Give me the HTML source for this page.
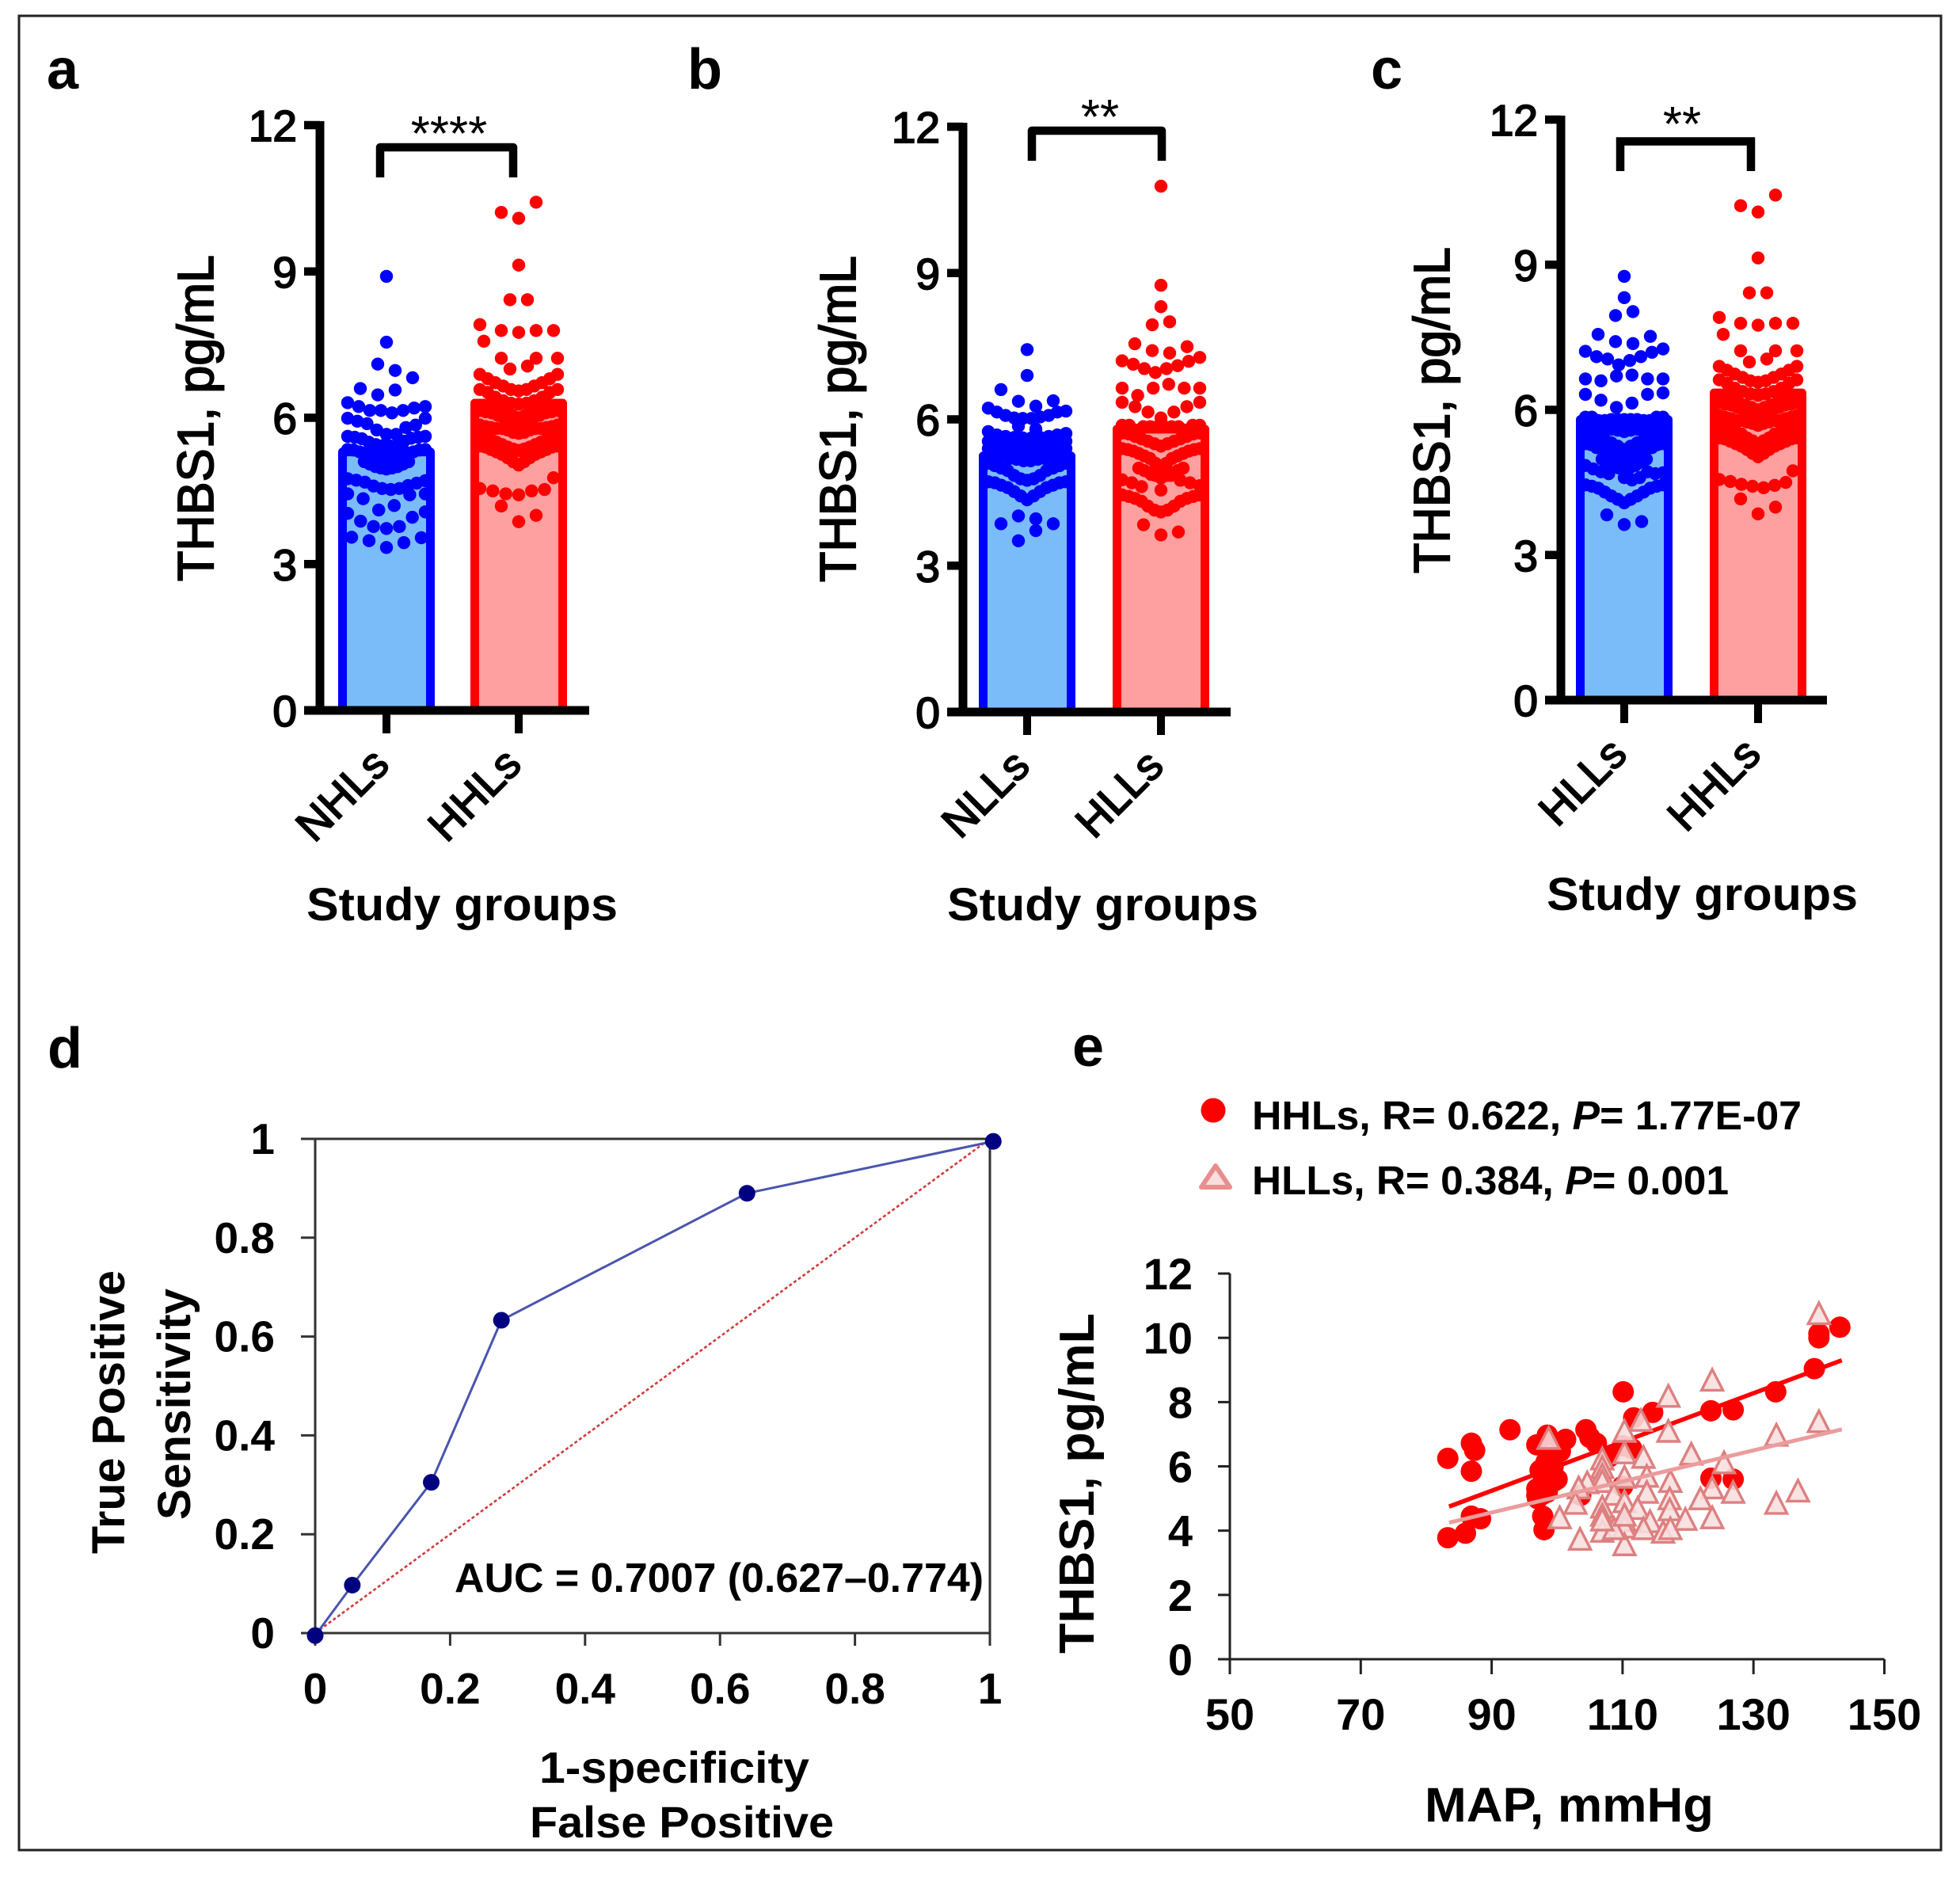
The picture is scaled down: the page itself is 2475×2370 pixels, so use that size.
<!DOCTYPE html>
<html lang="en">
<head>
<meta charset="utf-8">
<title>THBS1 study figure</title>
<style>
html,body{margin:0;padding:0;background:#fff;width:2475px;height:2370px;overflow:hidden}
svg{display:block}
text{font-family:"Liberation Sans",sans-serif;fill:#000}
.b{font-weight:700}
.m{stroke:#000;stroke-width:1.9px}
</style>
</head>
<body>
<svg id="figure" xmlns="http://www.w3.org/2000/svg" width="2475" height="2370" viewBox="0 0 2475 2370">
  <rect x="24" y="20" width="2427" height="2316" fill="#fff" stroke="#222" stroke-width="3"/>
  <text class="b" x="59" y="112" font-size="72">a</text>
  <text class="b" x="868" y="112" font-size="72">b</text>
  <text class="b" x="1731" y="112" font-size="72">c</text>
  <text class="b" x="60" y="1348" font-size="72">d</text>
  <text class="b" x="1354" y="1346" font-size="72">e</text>

  <g id="panel-a"></g>
  <g id="panel-b"></g>
  <g id="panel-c"></g>
  <g id="panel-d"></g>
  <g id="panel-e"></g>

  <g>
    <circle cx="1532" cy="1402" r="15.5" fill="#ff0000"/>
    <text class="b" x="1581" y="1426" font-size="51" textLength="694" lengthAdjust="spacingAndGlyphs">HHLs, R= 0.622, <tspan font-style="italic">P</tspan>= 1.77E-07</text>
    <polygon points="1535,1472 1553,1499 1517,1499" fill="#f8dede" stroke="#e88e8e" stroke-width="6" stroke-linejoin="round"/>
    <text class="b" x="1581" y="1508" font-size="51" textLength="602" lengthAdjust="spacingAndGlyphs">HLLs, R= 0.384,  <tspan font-style="italic">P</tspan>= 0.001</text>
  </g>
</svg>

<script>
/* ---------- chart data ---------- */
const barTicks = [0, 3, 6, 9, 12];

const panelACategories = ['NHLs', 'HHLs'];
const panelBCategories = ['NLLs', 'HLLs'];
const panelCCategories = ['HLLs', 'HHLs'];

const panelABars = [5.3, 6.3];
const panelBBars = [5.25, 5.8];
const panelCBars = [5.8, 6.35];

/* swarm rows: each row is listed left to right; null leaves a slot empty */
const aNHLsRows = [
  [8.9],[7.55],[null,7.1,6.97,6.82],[6.6,6.47,6.57,null],
  [6.31,6.23,6.15,6.15,6.1,6.15,6.2,6.23],
  [5.99,5.93,5.88,5.75,5.66,5.66,5.8,5.85,5.99],
  [5.62,5.6,5.57,5.5,5.45,5.43,5.42,5.45,5.52,5.58,5.6,5.62],
  [5.35,5.34,5.3,5.28,5.22,5.18,5.15,5.15,5.18,5.22,5.28,5.3,5.34,5.35],
  [null,null,null,5.1,5.05,5.0,4.97,4.95,4.97,5.0,5.05,5.1,null,null,null],
  [4.75,4.72,4.68,4.6,4.55,4.53,4.55,4.61,4.66,4.71],
  [4.44,4.34,4.11,4.2,4.42,4.44],
  [4.04,3.88,3.77,3.73,3.77,3.96,4.07],
  [3.55,3.48,3.34,3.44,3.54]
];
const aHHLsRows = [
  [10.21,10.09,10.42],[9.13],[8.42,8.42],
  [7.57,7.79,7.75,7.79,7.79],[7.91,null,null,null,null,null],
  [7.22,null,7.22],[7.0,7.06],[null,null,null,null,null,7.22],
  [6.89,6.8,6.72,6.65,6.58,6.55,6.58,6.65,6.72,6.8,6.89],
  [6.58,6.52,6.42,6.35,6.3,6.28,6.3,6.35,6.42,6.52,6.58],
  [6.25,6.22,6.2,6.15,6.1,6.05,6.0,6.05,6.1,6.15,6.2,6.22,6.25],
  [6.15,6.12,6.1,6.05,6.0,5.95,5.9,5.9,5.95,6.0,6.05,6.1,6.12,6.15],
  [5.85,5.82,5.8,5.78,5.78,5.75,5.7,5.68,5.7,5.75,5.78,5.78,5.8,5.82,5.85],
  [5.62,5.6,5.55,5.5,5.45,5.4,5.36,5.33,5.36,5.4,5.45,5.5,5.55,5.6,5.62],
  [5.42,5.4,5.35,5.3,5.25,5.18,5.1,5.03,5.1,5.18,5.25,5.3,5.35,5.4,5.42],
  [null,null,null,null,4.77],
  [4.55,4.5,4.44,4.42,4.5,4.53,null],
  [4.19,3.87,4.0]
];
const bNLLsRows = [
  [7.43],[6.9],[6.61,6.37,6.27,6.38],
  [6.23,6.15,6.08,6.03,6.02,6.02,6.05,6.08,6.15,6.17],
  [5.86,5.8],
  [5.75,5.68,5.65,5.63,5.62,5.62,5.63,5.65,5.68,5.71],
  [5.55,5.52,5.5,5.48,5.45,5.45,5.45,5.45,5.48,5.5,5.52,5.55],
  [5.4,5.38,5.35,5.33,5.3,5.3,5.3,5.33,5.35,5.38,5.4],
  [5.28,5.28,5.25,5.2,5.18,5.15,5.15,5.18,5.2,5.25,5.28,5.28],
  [5.1,5.05,5.0,4.95,4.85,4.78,4.75,4.78,4.85,4.95,5.0,5.05,5.1],
  [4.72,4.7,4.65,4.6,4.52,4.43,4.35,4.43,4.52,4.6,4.65,4.7,4.72],
  [3.86,4.02,3.96,3.86],[3.51,3.72]
];
const bHLLsRows = [
  [10.78],[8.75],[8.31],[7.94,8.0],[7.55,7.41,7.36,7.49],
  [7.2,7.13,7.04,6.96,7.04,7.1,7.19,7.27],
  [6.64,6.49,6.64,6.72,6.64,6.64],
  [6.35,6.26,6.15,6.03,6.15,6.26,6.35],
  [5.88,5.88,5.78,5.85,5.85,5.85,5.85,5.85,5.85,5.78,5.88,5.88],
  [5.72,5.7,5.65,5.6,5.55,5.5,5.45,5.5,5.55,5.6,5.65,5.7,5.72],
  [5.4,5.38,5.35,5.3,5.25,5.2,5.1,5.05,5.1,5.2,5.25,5.3,5.35,5.38,5.4],
  [null,null,null,5.0,4.95,4.9,4.85,4.8,4.85,4.9,4.95,5.0,null,null,null],
  [4.76,4.7,4.62,4.87,4.55,4.85,4.75,4.7,4.64],
  [4.45,4.42,4.38,4.32,4.22,4.14,4.1,4.14,4.22,4.32,4.38,4.42,4.45],
  [3.84,3.63,3.69]
];
const cHLLsRows = [
  [8.76],[8.32],[7.95,8.03],[7.56,7.41,7.37,7.52],
  [7.21,7.1,7.05,6.93,7.02,7.1,7.19,7.26],
  [6.64,6.6,6.7,6.72,6.64,6.64],
  [6.32,6.2,6.05,6.14,6.32,6.35],
  [5.85,5.85,5.78,5.78,5.8,5.8,5.8,5.8,5.8,5.78,5.78,5.85,5.85],
  [5.7,5.68,5.65,5.62,5.6,5.58,5.55,5.58,5.6,5.62,5.65,5.68,5.7],
  [5.5,5.48,5.42,5.38,5.32,5.25,5.18,5.25,5.32,5.38,5.42,5.48,5.5],
  [5.3,5.28,5.22,5.18,5.12,5.05,5.0,4.95,5.0,5.05,5.12,5.18,5.22,5.28,5.3],
  [null,null,null,4.98,4.92,4.85,4.8,4.75,4.8,4.85,4.92,4.98,null,null,null],
  [4.85,4.78,4.72,4.68,4.95,4.6,4.55,4.6,4.72,4.68,4.7],
  [4.45,4.42,4.38,4.3,4.22,4.15,4.08,4.15,4.22,4.3,4.38,4.42,4.45],
  [3.83,3.63,3.69]
];
const cHHLsRows = [
  [10.22,10.09,10.44],[9.14],[8.42,8.42],
  [7.56,7.79,7.75,7.79,7.79],[7.91,null,null,null,null,null],
  [7.22,null,7.22],[6.99,7.05],[null,null,null,null,null,7.22],
  [6.9,6.82,6.74,6.67,6.6,6.57,6.6,6.67,6.74,6.82,6.9],
  [6.62,6.55,6.45,6.38,6.33,6.3,6.33,6.38,6.45,6.55,6.62],
  [6.28,6.25,6.22,6.15,6.1,6.05,6.0,6.05,6.1,6.15,6.22,6.25,6.28],
  [6.15,6.12,6.1,6.05,6.0,5.95,5.88,5.88,5.95,6.0,6.05,6.1,6.12,6.15],
  [5.88,5.85,5.82,5.78,5.78,5.75,5.72,5.68,5.72,5.75,5.78,5.78,5.82,5.85,5.88],
  [5.68,5.65,5.6,5.55,5.5,5.42,5.36,5.3,5.36,5.42,5.5,5.55,5.6,5.65,5.68],
  [5.42,5.4,5.35,5.3,5.25,5.18,5.1,5.03,5.1,5.18,5.25,5.3,5.35,5.4,5.42],
  [null,null,null,null,4.74],
  [4.56,4.52,4.46,4.42,4.39,4.44,4.5,null],
  [4.16,3.85,3.99]
];

const rocTicks = [0, 0.2, 0.4, 0.6, 0.8, 1];
const rocFpr = [0, 0.055, 0.172, 0.276, 0.64, 1.005];
const rocTpr = [-0.005, 0.097, 0.305, 0.633, 0.89, 0.995];
const refLineFpr = [0, 1];
const refLineTpr = [0, 1];

const mapTicks = [50, 70, 90, 110, 130, 150];
const thbsTicks = [0, 2, 4, 6, 8, 10, 12];

const hhlsMap = [83.3,86.9,87.4,86.9,92.8,83.3,86,86.9,88.3,97.8,98,96.9,98.5,101.3,99.2,100.5,97.8,96.9,98.3,100,97.4,98.3,99.6,97,98.8,99.4,104.4,105,106,110.1,111.7,114.6,110,111.4,110,123.5,126.9,133.4,139.3,140,140,143.2,123.5,126.9,103.6,108,97.5,98.5,99,96.9];
const hhlsThbs = [6.25,6.72,6.5,5.85,7.14,3.78,3.92,4.45,4.37,4.45,4.03,6.67,6.97,6.84,6.3,6.47,5.13,5.3,5.55,5.6,5.88,6.13,5.55,5.0,5.75,6.0,7.14,6.9,6.72,8.32,7.51,7.68,6.64,6.55,5.38,7.73,7.76,8.32,9.04,10,10.13,10.33,5.63,5.6,5.1,6.3,5.4,5.2,5.8,5.1];

const hllsMap = [140,140,123.7,117,112.8,117,110.3,98.7,133.5,120.5,125.5,110.3,113.2,106.9,106.9,106.9,106.9,110.3,113.7,117.3,104.6,103.3,123.7,136.8,126.9,121.9,133.5,113.7,108.7,117.2,110.3,102.8,112.3,117.2,106.9,106.9,123.7,100.4,119.6,114.2,110.3,110.3,106.9,113.2,116.2,117.3,103.5,110.3,108.7,110.3,106.9];
const hllsThbs = [10.72,7.36,8.65,8.15,7.4,7.06,7.06,6.84,6.94,6.35,6.08,6.39,6.25,6.2,5.93,5.7,5.5,5.63,5.66,5.5,5.46,5.3,5.3,5.2,5.16,4.96,4.82,5.16,5.1,4.96,4.87,4.82,4.66,4.62,4.7,4.45,4.37,4.37,4.32,4.25,4.28,4.08,3.95,4.03,3.92,4.03,3.7,3.53,4.03,4.45,4.3];

const trendMap = [83.5, 143.5];
const hhlsTrend = [4.75, 9.3];
const hllsTrend = [4.25, 7.15];

/* ---------- helpers ---------- */
const NS = 'http://www.w3.org/2000/svg';
function mk(parent, tag, attrs, text) {
  const el = document.createElementNS(NS, tag);
  for (const k in attrs) el.setAttribute(k, attrs[k]);
  if (text !== undefined) el.textContent = text;
  parent.appendChild(el);
  return el;
}

/* ---------- bar + swarm panels ---------- */
function drawBarPanel(id, o) {
  const g = document.getElementById(id);
  const y = v => o.y0 - v * (o.y0 - o.y12) / 12;
  const colors = [['#0000ff', '#7abcfa'], ['#ff0000', '#ffa0a0']];

  o.bars.forEach((v, i) => {
    const cx = o.centers[i];
    const bar = mk(g, 'rect', {x: cx - 55.5, y: y(v), width: 111, height: o.y0 - y(v), fill: colors[i][1], stroke: colors[i][0], 'stroke-width': 11, 'stroke-linejoin': 'round'});
    
    
  });

  o.rows.forEach((rows, i) => {
    const cx = o.centers[i];
    rows.forEach(row => {
      const k = row.length;
      const step = k > 1 ? Math.min(22, 98 / (k - 1)) : 0;
      row.forEach((v, j) => {
        if (v === null) return;
        const dot = mk(g, 'circle', {cx: cx + (j - (k - 1) / 2) * step, cy: y(v), r: 8.2, fill: colors[i][0]});
        
        
      });
    });
  });

  const yAxis = mk(g, 'line', {x1: o.axisX, x2: o.axisX, y1: o.y12 - 5, y2: o.y0 + 5.5, stroke: '#000', 'stroke-width': 11});
  
  
  const xAxis = mk(g, 'line', {x1: o.axisX - 20, x2: o.xEnd, y1: o.y0, y2: o.y0, stroke: '#000', 'stroke-width': 11});
  
  

  barTicks.forEach(t => {
    const tick = mk(g, 'line', {x1: o.axisX - 20, x2: o.axisX, y1: y(t), y2: y(t), stroke: '#000', 'stroke-width': 10.5});
    
    
    const lab = mk(g, 'text', {x: o.axisX - 29, y: y(t) + 20, 'font-size': 55, 'text-anchor': 'end', class: 'm'}, String(t));
    
    
  });

  o.categories.forEach((c, i) => {
    const cx = o.centers[i];
    const tick = mk(g, 'line', {x1: cx, x2: cx, y1: o.y0, y2: o.y0 + 29, stroke: '#000', 'stroke-width': 10});
    
    
    const ex = cx + 6, ey = o.y0 + 71;
    const lab = mk(g, 'text', {x: ex, y: ey, 'font-size': 55, 'text-anchor': 'end', class: 'm', transform: 'rotate(-45 ' + ex + ' ' + ey + ')'}, c);
    
    
  });

  const br = mk(g, 'path', {d: 'M' + o.br[0] + ' ' + o.br[3] + 'V' + o.br[2] + 'H' + o.br[1] + 'V' + o.br[3], fill: 'none', stroke: '#000', 'stroke-width': 10.5, 'stroke-linejoin': o.brJoin});
  
  
  const sig = mk(g, 'text', {x: (o.sigX), y: o.sigY, 'font-size': 62, 'text-anchor': 'middle'}, o.sig);
  
  

  const ty = mk(g, 'text', {x: o.titleX, y: o.titleY, 'font-size': 64, 'text-anchor': 'middle', class: 'm', textLength: 412, lengthAdjust: 'spacingAndGlyphs', transform: 'rotate(-90 ' + o.titleX + ' ' + o.titleY + ')'}, 'THBS1, pg/mL');
  
  
  const tx = mk(g, 'text', {x: o.xtX, y: o.xtY, 'font-size': 58, class: 'b', textLength: 393, lengthAdjust: 'spacingAndGlyphs'}, 'Study groups');
  
  
}

drawBarPanel('panel-a', {
  y0: 897, y12: 158, axisX: 404, xEnd: 744, centers: [488, 655],
  bars: panelABars, categories: panelACategories, rows: [aNHLsRows, aHHLsRows],
  br: [480, 648, 186, 224], brJoin: 'round', sig: '****', sigX: 567, sigY: 190,
  titleX: 269, titleY: 528, xtX: 387, xtY: 1162
});
drawBarPanel('panel-b', {
  y0: 899, y12: 160, axisX: 1216, xEnd: 1554, centers: [1297, 1466],
  bars: panelBBars, categories: panelBCategories, rows: [bNLLsRows, bHLLsRows],
  br: [1303, 1467, 165, 203], brJoin: 'round', sig: '**', sigX: 1389, sigY: 169,
  titleX: 1080, titleY: 529, xtX: 1196, xtY: 1162
});
drawBarPanel('panel-c', {
  y0: 884, y12: 151, axisX: 1971, xEnd: 2307, centers: [2051, 2220],
  bars: panelCBars, categories: panelCCategories, rows: [cHLLsRows, cHHLsRows],
  br: [2046, 2211, 178.5, 216], brJoin: 'miter', sig: '**', sigX: 2124, sigY: 178,
  titleX: 1830, titleY: 518, xtX: 1953, xtY: 1149
});

/* ---------- ROC panel ---------- */
(function () {
  const g = document.getElementById('panel-d');
  const x = v => 398 + v * 852;
  const y = v => 2062 - v * 624;

  const frame = mk(g, 'rect', {x: x(0), y: y(1), width: x(1) - x(0), height: y(0) - y(1), fill: 'none', stroke: '#333', 'stroke-width': 3});
  
  

  rocTicks.forEach(t => {
    const yt = mk(g, 'line', {x1: 380, x2: x(0), y1: y(t), y2: y(t), stroke: '#333', 'stroke-width': 3});
    
    
    const xt = mk(g, 'line', {x1: x(t), x2: x(t), y1: y(0), y2: 2078, stroke: '#333', 'stroke-width': 3});
    
    
    const yl = mk(g, 'text', {x: 347, y: y(t) + 19, 'font-size': 55, class: 'b', 'text-anchor': 'end'}, String(t));
    
    
    const xl = mk(g, 'text', {x: x(t), y: 2151, 'font-size': 55, class: 'b', 'text-anchor': 'middle'}, String(t));
    
    
  });

  const ref = mk(g, 'line', {x1: x(refLineFpr[0]), y1: y(refLineTpr[0]), x2: x(refLineFpr[1]), y2: y(refLineTpr[1]), stroke: '#d03a3a', 'stroke-width': 2.6, 'stroke-dasharray': '4 3'});
  
  

  const roc = mk(g, 'polyline', {points: rocFpr.map((f, i) => x(f) + ',' + y(rocTpr[i])).join(' '), fill: 'none', stroke: '#4a55ad', 'stroke-width': 3});
  
  

  rocFpr.forEach((f, i) => {
    const p = mk(g, 'circle', {cx: x(f), cy: y(rocTpr[i]), r: 10.5, fill: '#000080'});
    
    
  });

  const auc = mk(g, 'text', {x: 574, y: 2010, 'font-size': 52, class: 'b', textLength: 668, lengthAdjust: 'spacingAndGlyphs'}, 'AUC = 0.7007 (0.627–0.774)');
  
  

  const t1 = mk(g, 'text', {x: 157, y: 1783, 'font-size': 58, class: 'b', 'text-anchor': 'middle', textLength: 358, lengthAdjust: 'spacingAndGlyphs', transform: 'rotate(-90 157 1783)'}, 'True Positive');
  
  
  const t2 = mk(g, 'text', {x: 240, y: 1773, 'font-size': 58, class: 'b', 'text-anchor': 'middle', textLength: 292, lengthAdjust: 'spacingAndGlyphs', transform: 'rotate(-90 240 1773)'}, 'Sensitivity');
  
  
  const t3 = mk(g, 'text', {x: 681, y: 2251, 'font-size': 56, class: 'b', textLength: 341, lengthAdjust: 'spacingAndGlyphs'}, '1-specificity');
  
  
  const t4 = mk(g, 'text', {x: 669, y: 2320, 'font-size': 56, class: 'b', textLength: 384, lengthAdjust: 'spacingAndGlyphs'}, 'False Positive');
  
  
})();

/* ---------- scatter panel ---------- */
(function () {
  const g = document.getElementById('panel-e');
  const x = v => 1553 + (v - 50) * 8.265;
  const y = v => 2095 - v * 40.58;

  const ya = mk(g, 'line', {x1: x(50), x2: x(50), y1: y(12), y2: y(0), stroke: '#222', 'stroke-width': 3});
  
  
  const xa = mk(g, 'line', {x1: x(50), x2: x(150), y1: y(0), y2: y(0), stroke: '#222', 'stroke-width': 3});
  
  

  thbsTicks.forEach(t => {
    const tick = mk(g, 'line', {x1: 1538, x2: x(50), y1: y(t), y2: y(t), stroke: '#222', 'stroke-width': 3});
    
    
    const lab = mk(g, 'text', {x: 1506, y: y(t) + 20, 'font-size': 56, class: 'b', 'text-anchor': 'end'}, String(t));
    
    
  });
  mapTicks.forEach(t => {
    const tick = mk(g, 'line', {x1: x(t), x2: x(t), y1: y(0), y2: 2114, stroke: '#222', 'stroke-width': 3});
    
    
    const lab = mk(g, 'text', {x: x(t), y: 2184, 'font-size': 56, class: 'b', 'text-anchor': 'middle'}, String(t));
    
    
  });

  hhlsMap.forEach((m, i) => {
    const c = mk(g, 'circle', {cx: x(m), cy: y(hhlsThbs[i]), r: 13.5, fill: '#ff0000'});
    
    
  });

  const redLine = mk(g, 'line', {x1: x(trendMap[0]), y1: y(hhlsTrend[0]), x2: x(trendMap[1]), y2: y(hhlsTrend[1]), stroke: '#ff0000', 'stroke-width': 5.5});
  
  

  hllsMap.forEach((m, i) => {
    const px = x(m), py = y(hllsThbs[i]);
    const tri = mk(g, 'polygon', {points: px + ',' + (py - 15) + ' ' + (px + 13.5) + ',' + (py + 11.5) + ' ' + (px - 13.5) + ',' + (py + 11.5), fill: '#f8dede', 'fill-opacity': 0.88, stroke: '#dd8080', 'stroke-width': 3.4});
    
    
  });

  const pinkLine = mk(g, 'line', {x1: x(trendMap[0]), y1: y(hllsTrend[0]), x2: x(trendMap[1]), y2: y(hllsTrend[1]), stroke: '#eb9c9c', 'stroke-width': 5});
  
  

  const ty = mk(g, 'text', {x: 1381, y: 1873, 'font-size': 62, class: 'b', 'text-anchor': 'middle', textLength: 430, lengthAdjust: 'spacingAndGlyphs', transform: 'rotate(-90 1381 1873)'}, 'THBS1, pg/mL');
  
  
  const tx = mk(g, 'text', {x: 1799, y: 2300, 'font-size': 61, class: 'b', textLength: 365, lengthAdjust: 'spacingAndGlyphs'}, 'MAP, mmHg');
  
  
})();
</script>
</body>
</html>
